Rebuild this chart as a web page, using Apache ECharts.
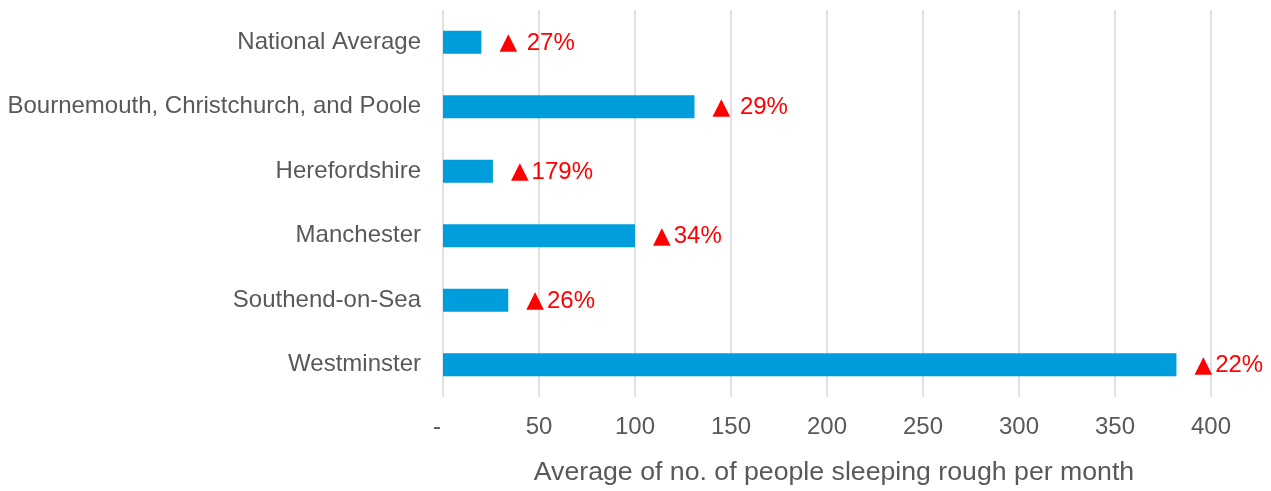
<!DOCTYPE html>
<html>
<head>
<meta charset="utf-8">
<style>
  html, body { margin: 0; padding: 0; background: #ffffff; }
  #chart { width: 1271px; height: 491px; }
</style>
<script src="https://cdn.jsdelivr.net/npm/echarts@6/dist/echarts.min.js"></script>
</head>
<body>
<div id="chart"></div>
<script>
// Local authorities compared with the national average
const areas = [
  'National Average',
  'Bournemouth, Christchurch, and Poole',
  'Herefordshire',
  'Manchester',
  'Southend-on-Sea',
  'Westminster'
];
// Average number of people sleeping rough per month
const roughSleepers = [20, 131, 26, 100, 34, 382];
// Change shown beside each bar: arrow + text
const changeLabels = [' 27%', ' 29%', '179%', '34%', '26%', '22%'];
// X axis ticks
const xTicks = [0, 50, 100, 150, 200, 250, 300, 350, 400];

const FONT = '"Liberation Sans", Arial, sans-serif';
const GREY = '#595959';

const chart = echarts.init(document.getElementById('chart'), null, { renderer: 'canvas' });

chart.setOption({
  animation: false,
  grid: { left: 443, right: 60, top: 10, bottom: 92, containLabel: false },
  xAxis: {
    type: 'value',
    min: xTicks[0],
    max: xTicks[xTicks.length - 1],
    interval: xTicks[1] - xTicks[0],
    name: 'Average of no. of people sleeping rough per month',
    nameLocation: 'middle',
    nameGap: 62,
    nameTextStyle: { fontFamily: FONT, fontSize: 26.7, color: GREY, padding: [0, 0, 0, 14] },
    axisLine: { show: false },
    axisTick: { show: false },
    axisLabel: {
      fontFamily: FONT, fontSize: 24, color: GREY, margin: 18,
      formatter: v => (v === 0 ? '{dash|-}' : String(v)),
      rich: { dash: { fontFamily: FONT, fontSize: 24, color: GREY, padding: [0, 12, 0, 0] } }
    },
    splitLine: { show: true, lineStyle: { color: '#d9d9d9', width: 1.5 } }
  },
  yAxis: {
    type: 'category',
    data: areas,
    inverse: true,
    axisLine: { show: false },
    axisTick: { show: false },
    axisLabel: { fontFamily: FONT, fontSize: 24, color: GREY, margin: 22, padding: [2, 0, 0, 0] },
    splitLine: { show: false }
  },
  series: [{
    type: 'bar',
    data: roughSleepers,
    barWidth: 23,
    itemStyle: { color: '#009ddc' },
    label: {
      show: true,
      position: 'right',
      distance: 18,
      fontFamily: FONT,
      fontSize: 24,
      color: '#ff0000',
      padding: [2, 0, 0, 0],
      formatter: p => '{tri|▲}{pct|' + changeLabels[p.dataIndex] + '}',
      rich: {
        tri: { fontFamily: '"DejaVu Sans"', fontSize: 23, color: '#ff0000', padding: [0, 3, 0, 0] },
        pct: { fontFamily: FONT, fontSize: 24, color: '#ff0000' }
      }
    }
  }]
});
</script>
</body>
</html>
